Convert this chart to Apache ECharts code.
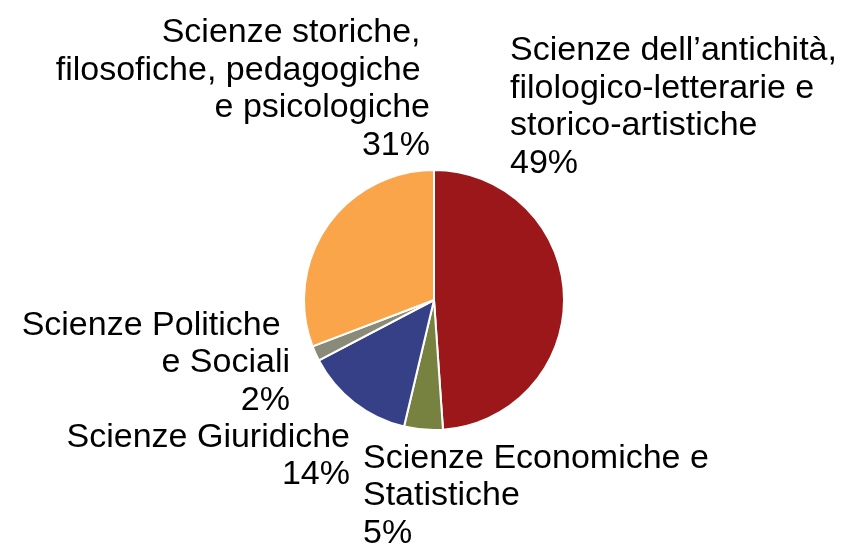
<!DOCTYPE html>
<html>
<head>
<meta charset="utf-8">
<script src="https://cdn.jsdelivr.net/npm/echarts@6/dist/echarts.min.js"></script>
<style>
  html, body { margin: 0; padding: 0; background: #fff; }
  #chart { width: 850px; height: 544px; }
</style>
</head>
<body>
<div id="chart"></div>
<script>
// categories (clockwise from 12 o'clock)
const categories = [
  "Scienze dell\u2019antichità,\nfilologico-letterarie e\nstorico-artistiche",
  "Scienze Economiche e\nStatistiche",
  "Scienze Giuridiche",
  "Scienze Politiche \ne Sociali",
  "Scienze storiche, \nfilosofiche, pedagogiche \ne psicologiche"
];
// share of each area, in percent
const shares = [48.9, 4.8, 13.6, 1.9, 30.8];
const colors = ["#9b1719", "#778241", "#364086", "#8a8a78", "#fba54a"];

// where each label block sits (anchor x, middle y, alignment)
const labelSpots = [
  { x: 510, y: 107, align: "left" },
  { x: 363, y: 496, align: "left" },
  { x: 350, y: 456, align: "right" },
  { x: 290, y: 363, align: "right" },
  { x: 430, y: 89, align: "right" }
];

const chart = echarts.init(document.getElementById("chart"));
chart.setOption({
  animation: false,
  series: [
    {
      type: "pie",
      center: [434, 300],
      radius: 130,
      startAngle: 90,
      clockwise: true,
      data: categories.map((name, i) => ({
        name: name,
        value: shares[i],
        itemStyle: { color: colors[i] }
      })),
      itemStyle: {
        borderColor: "#ffffff",
        borderWidth: 2
      },
      label: {
        show: true,
        position: "inside",
        color: "#000000",
        fontFamily: "Liberation Sans, Arial, sans-serif",
        fontSize: 34,
        lineHeight: 37.5,
        formatter: function (p) {
          return p.name + "\n" + Math.round(p.value) + "%";
        }
      },
      labelLine: { show: false },
      labelLayout: function (params) {
        const s = labelSpots[params.dataIndex];
        return {
          x: s.x,
          y: s.y,
          align: s.align,
          verticalAlign: "middle"
        };
      },
      emphasis: { disabled: true }
    }
  ]
});
</script>
</body>
</html>
